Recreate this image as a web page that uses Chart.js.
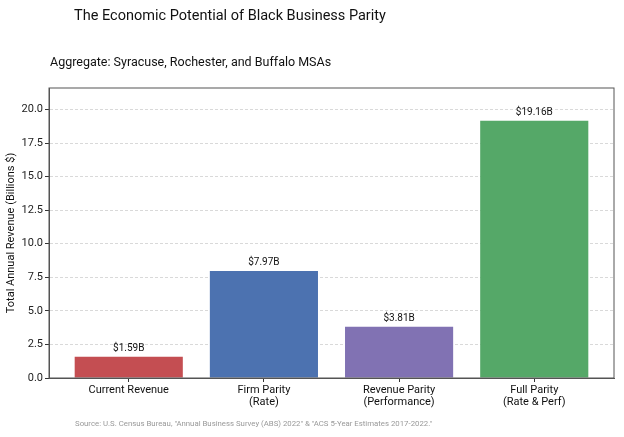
<!DOCTYPE html>
<html>
<head>
<meta charset="utf-8">
<script src="https://cdn.jsdelivr.net/npm/chart.js@4"></script>
<style>
  html, body { margin: 0; padding: 0; background: #fff; }
  #wrap { width: 624px; height: 437px; }
</style>
</head>
<body>
<div id="wrap"><canvas id="canvas"></canvas></div>
<script>
// Chart data
let categories = [['Current Revenue'], ['Firm Parity', '(Rate)'], ['Revenue Parity', '(Performance)'], ['Full Parity', '(Rate & Perf)']];
let revenue = [1.59, 7.97, 3.81, 19.16]; // billions $
let valueLabels = ['$1.59B', '$7.97B', '$3.81B', '$19.16B'];
let barColors = ['#c44e52', '#4c72b0', '#8172b3', '#55a868'];
let yTicks = [0, 2.5, 5, 7.5, 10, 12.5, 15, 17.5, 20];

let titleText = 'The Economic Potential of Black Business Parity';
let subtitleText = 'Aggregate: Syracuse, Rochester, and Buffalo MSAs';
let sourceText = 'Source: U.S. Census Bureau, "Annual Business Survey (ABS) 2022" & "ACS 5-Year Estimates 2017-2022."';

const FONT = 'Roboto, "Open Sans", sans-serif';

// titles, source, frame and bar value labels
const extras = {
    id: 'extras',
    afterDraw(chart) {
        const ctx = chart.ctx;
        const area = chart.chartArea;
        ctx.save();
        // box round the plot
        ctx.strokeStyle = '#555';
        ctx.lineWidth = 1;
        ctx.strokeRect(area.left, area.top, area.right - area.left, area.bottom - area.top);

        ctx.fillStyle = '#111';
        ctx.textBaseline = 'middle';
        ctx.textAlign = 'center';
        ctx.font = '14.5px ' + FONT;
        ctx.fillText(titleText, 230, 16);

        ctx.textAlign = 'left';
        ctx.font = '12.5px ' + FONT;
        ctx.fillText(subtitleText, 50, 63);

        ctx.fillStyle = '#999';
        ctx.font = '7.8px ' + FONT;
        ctx.fillText(sourceText, 75, 424);

        // value labels over each bar
        const meta = chart.getDatasetMeta(0);
        ctx.fillStyle = '#111';
        ctx.textAlign = 'center';
        ctx.textBaseline = 'bottom';
        ctx.font = '10px ' + FONT;
        meta.data.forEach((bar, i) => {
            ctx.fillText(valueLabels[i], bar.x, bar.y - 3);
        });
        ctx.restore();
    }
};

let canvas = document.getElementById('canvas');

new Chart(canvas, {
    type: 'bar',
    data: {
        datasets: [{
            data: revenue.map((v, i) => ({ x: i, y: v })),
            backgroundColor: barColors,
            borderWidth: 0,
            barPercentage: 1,
            categoryPercentage: 0.8
        }]
    },
    options: {
        responsive: true,
        maintainAspectRatio: false,
        animation: false,
        layout: { padding: { top: 88, right: 10, left: 0, bottom: 0 } },
        plugins: {
            legend: { display: false },
            tooltip: { enabled: false }
        },
        scales: {
            x: {
                type: 'linear',
                offset: false,
                min: -0.59,
                max: 3.59,
                afterBuildTicks: (scale) => { scale.ticks = categories.map((c, i) => ({ value: i })); },
                afterFit: (scale) => { scale.height = 59; },
                grid: { display: true, offset: false, drawOnChartArea: false, tickLength: 4, tickColor: '#333', tickWidth: 1 },
                border: { display: true, color: '#555', width: 1 },
                ticks: {
                    autoSkip: false,
                    maxRotation: 0,
                    padding: 2,
                    color: '#111',
                    font: { family: FONT, size: 11, lineHeight: 1.12 },
                    callback: (v) => categories[v]
                }
            },
            y: {
                min: 0,
                max: 21.6,
                afterBuildTicks: (scale) => { scale.ticks = yTicks.map(v => ({ value: v })); },
                afterFit: (scale) => { scale.width = 49; },
                title: {
                    display: true,
                    text: 'Total Annual Revenue (Billions $)',
                    color: '#111',
                    font: { family: FONT, size: 11 },
                    padding: { top: 5, bottom: 0 }
                },
                grid: { color: '#cfcfcf', lineWidth: 0.8, tickLength: 4, tickColor: '#333', tickWidth: 1, tickBorderDash: [] },
                border: { display: true, color: '#555', width: 1, dash: [3, 2] },
                ticks: {
                    color: '#222',
                    padding: 2,
                    font: { family: FONT, size: 11 },
                    callback: (v) => v.toFixed(1)
                }
            }
        }
    },
    plugins: [extras]
});
</script>
</body>
</html>
